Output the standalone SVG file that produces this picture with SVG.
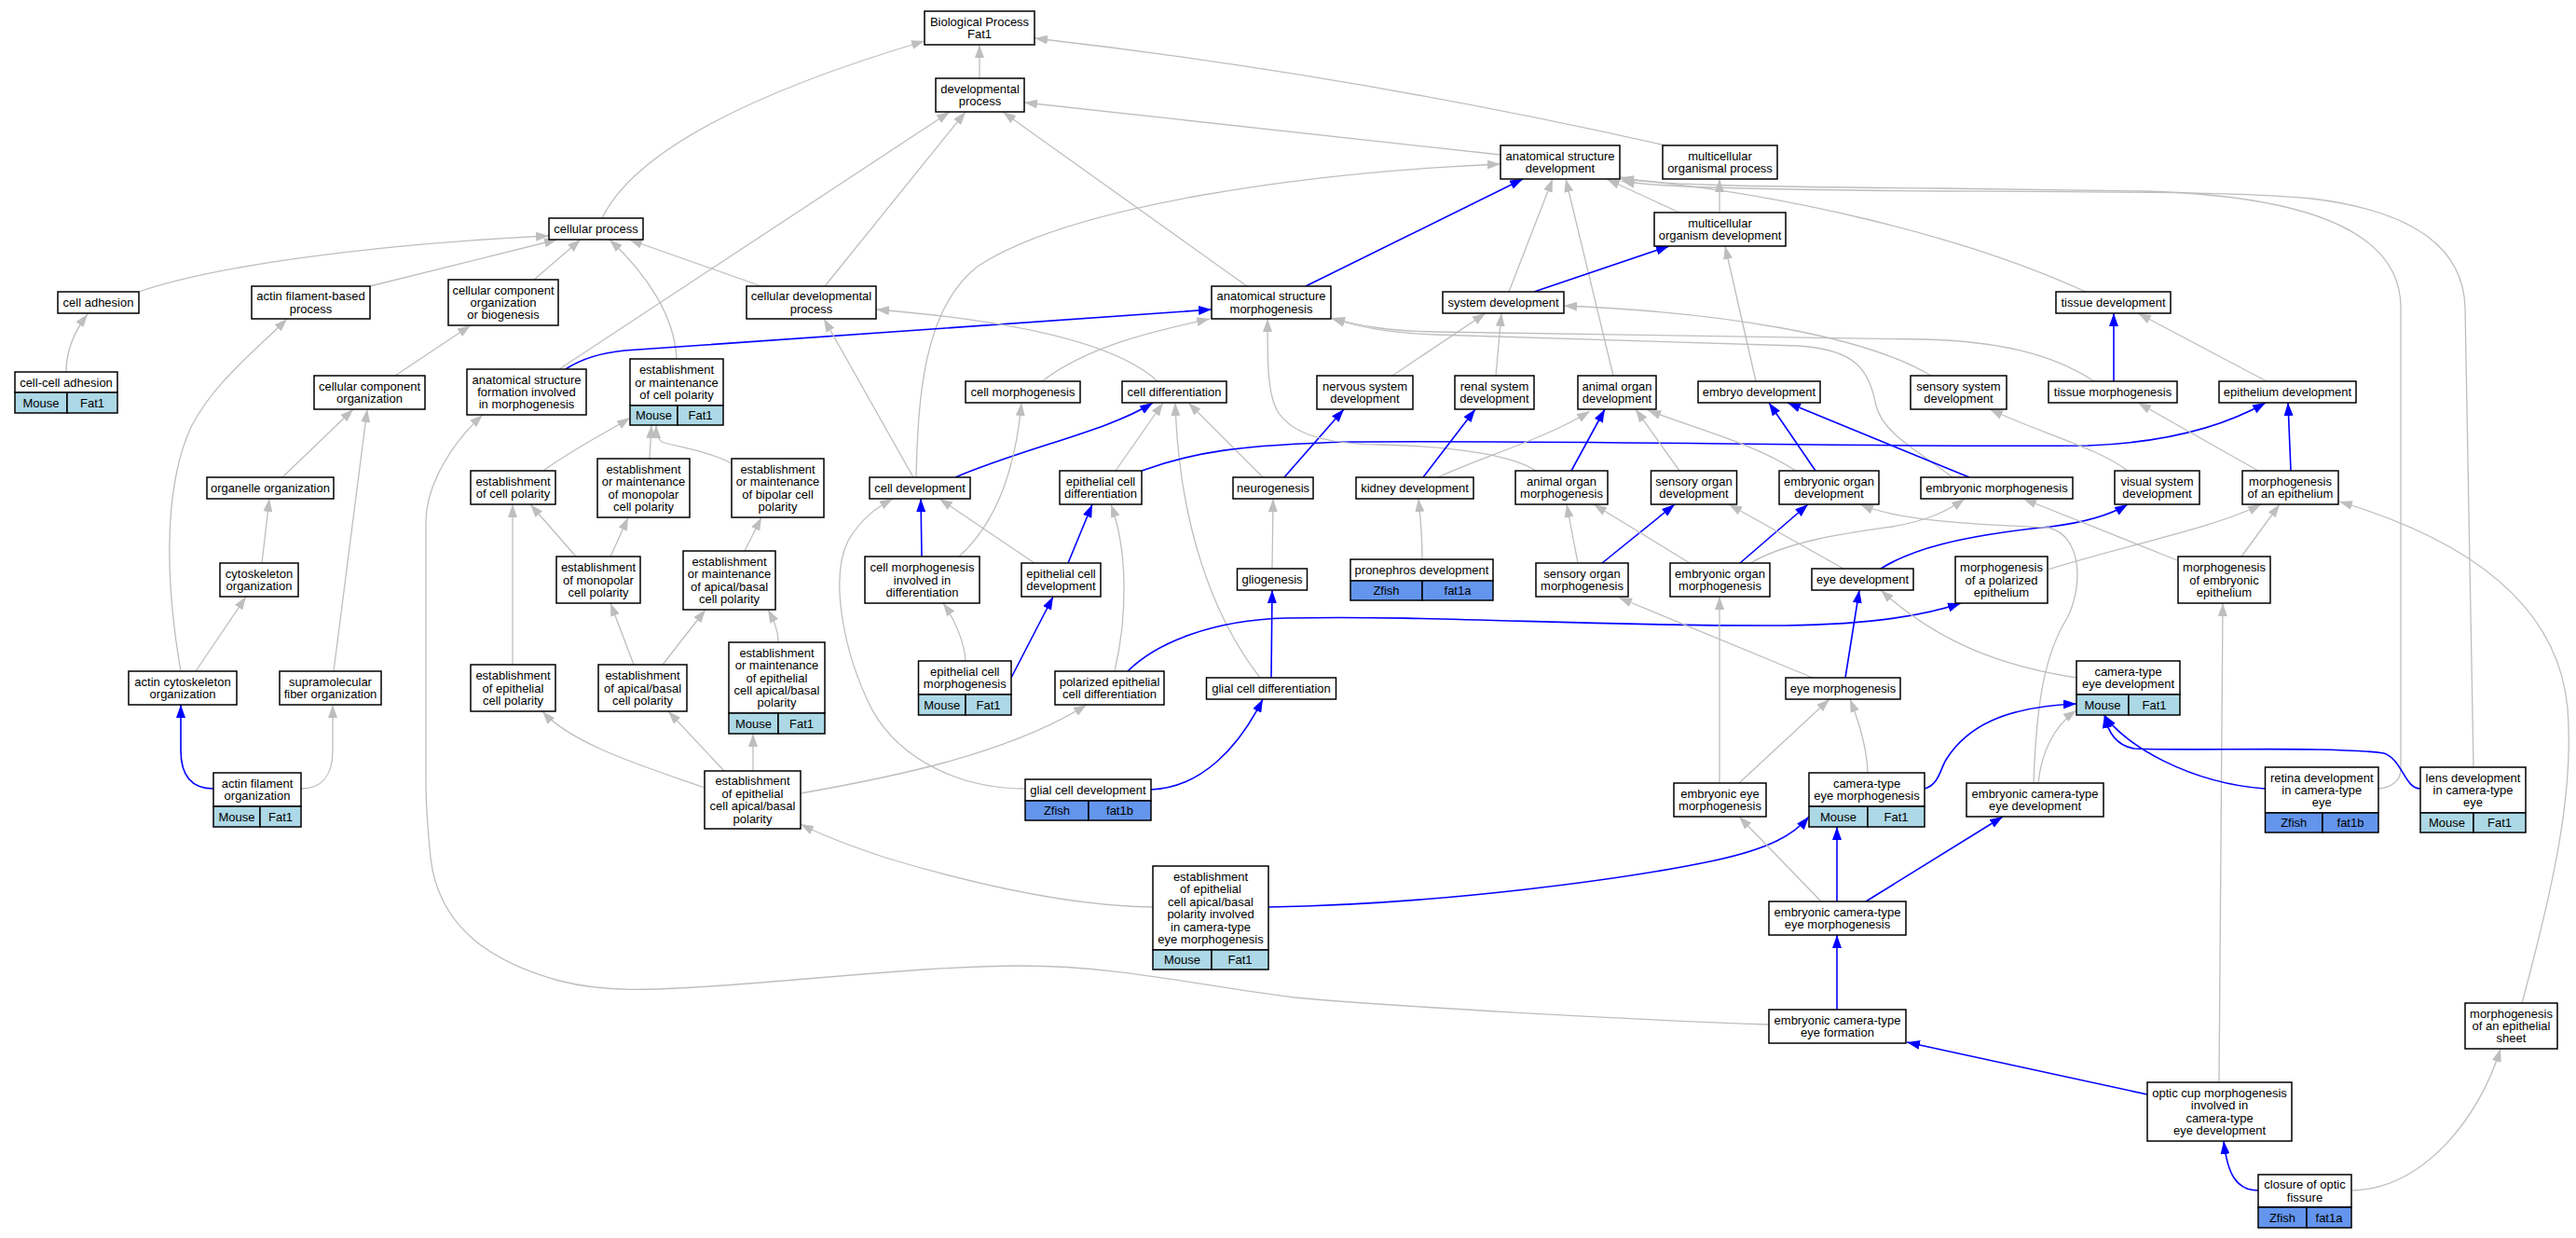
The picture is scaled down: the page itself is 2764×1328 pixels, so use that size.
<svg xmlns="http://www.w3.org/2000/svg" width="2764" height="1328" viewBox="0 0 2764 1328">
<defs>
<marker id="ag" markerUnits="userSpaceOnUse" markerWidth="14" markerHeight="10" refX="14" refY="5" orient="auto" viewBox="0 0 14 10"><path d="M0,0L14,5L0,10z" fill="#bebebe"/></marker>
<marker id="ab" markerUnits="userSpaceOnUse" markerWidth="14" markerHeight="10" refX="14" refY="5" orient="auto" viewBox="0 0 14 10"><path d="M0,0L14,5L0,10z" fill="#0000ff"/></marker>
</defs>
<style>
text{font-family:"Liberation Sans",Arial,Helvetica,sans-serif;font-size:13px;text-anchor:middle;fill:#000}
.n rect{fill:#fff;stroke:#000;stroke-width:1.5}
.n rect.m{fill:#add8e6}
.n rect.z{fill:#6495ed}
.g{fill:none;stroke:#bebebe;stroke-width:1.3;marker-end:url(#ag)}
.b{fill:none;stroke:#0000ff;stroke-width:1.6;marker-end:url(#ab)}
</style>
<rect width="2764" height="1328" fill="#fff"/>
<g id="edges">
<path class="g" d="M1051,84 L1051,48"/>
<path class="g" d="M646,234 C675,175 770,110 992,44"/>
<path class="g" d="M1787,156 Q1450,80 1110,41"/>
<path class="g" d="M1610,166 L1099,110"/>
<path class="g" d="M1338,307 L1076,120"/>
<path class="g" d="M885,307 L1036,120"/>
<path class="g" d="M600,396 L1019,120"/>
<path class="g" d="M983,512 C985,430 990,330 1050,285 C1150,220 1400,185 1610,176"/>
<path class="b" d="M1401,307 L1634,192"/>
<path class="g" d="M1619,313 L1666,192"/>
<path class="g" d="M1731,403 L1680,192"/>
<path class="g" d="M1802,228 L1724,192"/>
<path class="g" d="M1845,228 L1845,192"/>
<path class="g" d="M2238,313 C2100,250 1900,205 1739,192"/>
<path class="g" d="M2552,846 C2565,845 2576,838 2576,825 L2576,330 C2576,250 2480,210 2300,205 L2080,202 C1850,200 1770,198 1739,190"/>
<path class="g" d="M2654,823 L2645,330 C2643,260 2580,225 2480,213 C2400,206 2300,206 2080,205 C1850,203 1770,200 1740,194"/>
<path class="b" d="M1646,313 L1791,264"/>
<path class="g" d="M1884,409 L1851,264"/>
<path class="g" d="M1494,403 L1594,336"/>
<path class="g" d="M1605,403 L1611,336"/>
<path class="g" d="M2072,403 C2000,360 1850,335 1678,328"/>
<path class="g" d="M2247,409 C2200,378 2140,366 2064,364 L1540,356 C1490,355 1460,350 1429,341"/>
<path class="g" d="M2095,512 C2060,485 2020,465 2013,435 C2005,395 1990,375 1930,371 L1540,359 C1490,357 1460,351 1429,342"/>
<path class="g" d="M71,399 C71,375 80,355 94,337"/>
<path class="g" d="M149,313 C230,285 400,262 589,253"/>
<path class="g" d="M397,307 L598,257"/>
<path class="g" d="M573,300 L623,257"/>
<path class="g" d="M726,385 C724,340 695,295 654,257"/>
<path class="g" d="M817,307 L675,257"/>
<path class="g" d="M424,403 L505,349"/>
<path class="g" d="M303,512 L379,439"/>
<path class="g" d="M358,720 L394,439"/>
<path class="g" d="M281,604 L289,535"/>
<path class="g" d="M210,720 L264,640"/>
<path class="g" d="M194,720 C180,640 172,530 205,458 C230,410 270,380 308,342"/>
<path class="b" d="M229,846 C208,846 194,835 194,805 L194,756"/>
<path class="g" d="M323,846 C345,846 357,832 357,805 L357,756"/>
<path class="g" d="M1898,1099 C1750,1094 1500,1080 1389,1070 C1290,1058 1200,1036 1096,1036 C1000,1036 880,1050 763,1058 C700,1062 650,1065 600,1052 C520,1030 470,990 462,920 C459,890 457,870 457,840 L457,560 C457,520 485,475 518,445"/>
<path class="b" d="M607,396 C622,386 640,379 670,376 L1300,332"/>
<path class="g" d="M583,505 C620,478 655,462 676,448"/>
<path class="g" d="M697,492 L699,456"/>
<path class="g" d="M785,497 C760,483 720,478 710,474 C705,470 704,463 704,456"/>
<path class="g" d="M618,597 L569,541"/>
<path class="g" d="M655,597 L674,555"/>
<path class="g" d="M550,713 L550,541"/>
<path class="g" d="M680,713 L655,647"/>
<path class="g" d="M711,713 L757,654"/>
<path class="g" d="M799,591 L817,555"/>
<path class="g" d="M835,689 C835,675 830,665 824,654"/>
<path class="g" d="M756,845 C700,825 615,800 582,763"/>
<path class="g" d="M777,827 L717,763"/>
<path class="g" d="M808,827 L808,787"/>
<path class="g" d="M859,851 C950,835 1080,810 1166,756"/>
<path class="g" d="M1237,973 C1150,972 1050,950 950,920 C905,905 880,895 859,884"/>
<path class="b" d="M1361,973 C1550,970 1750,942 1840,923 C1900,910 1925,895 1941,876"/>
<path class="g" d="M1100,846 C1030,846 965,815 935,760 C905,700 890,620 910,580 C925,555 940,545 958,535"/>
<path class="b" d="M1235,847 C1290,845 1330,800 1355,750"/>
<path class="b" d="M1364,727 L1365,633"/>
<path class="g" d="M1352,727 C1300,660 1265,560 1261,432"/>
<path class="g" d="M1365,610 L1366,535"/>
<path class="g" d="M1355,512 L1275,432"/>
<path class="b" d="M1378,512 L1442,439"/>
<path class="b" d="M1025,512 C1100,480 1190,462 1237,432"/>
<path class="g" d="M1197,505 L1248,432"/>
<path class="b" d="M989,597 L988,535"/>
<path class="g" d="M1110,604 L1008,535"/>
<path class="g" d="M1029,597 C1070,560 1090,500 1096,432"/>
<path class="g" d="M1036,709 C1035,690 1025,665 1012,647"/>
<path class="b" d="M1085,727 L1130,640"/>
<path class="b" d="M1146,604 L1172,541"/>
<path class="g" d="M1196,720 C1210,660 1210,590 1192,541"/>
<path class="b" d="M1210,720 C1240,690 1300,665 1380,663 C1550,660 1700,672 1915,671 C2000,670 2060,662 2104,647"/>
<path class="b" d="M1225,505 C1280,485 1330,477 1450,474 C1700,472 2000,480 2240,478 C2320,475 2385,458 2431,432"/>
<path class="g" d="M980,512 L884,342"/>
<path class="g" d="M1242,409 C1200,370 1100,345 940,332"/>
<path class="g" d="M1118,409 C1170,370 1240,355 1298,342"/>
<path class="g" d="M1648,505 C1625,490 1570,479 1480,477 C1420,476 1385,465 1370,440 C1360,420 1360,390 1360,342"/>
<path class="b" d="M1527,512 L1583,439"/>
<path class="g" d="M1543,512 C1590,490 1660,470 1706,441"/>
<path class="b" d="M1686,505 L1722,439"/>
<path class="g" d="M1802,505 L1755,439"/>
<path class="g" d="M1927,505 C1880,475 1820,460 1768,440"/>
<path class="b" d="M1948,505 L1898,432"/>
<path class="b" d="M2113,512 L1918,432"/>
<path class="g" d="M1526,600 C1526,570 1524,555 1522,535"/>
<path class="g" d="M1693,604 L1681,541"/>
<path class="b" d="M1719,604 L1797,541"/>
<path class="g" d="M1813,604 L1710,541"/>
<path class="b" d="M1867,604 L1940,541"/>
<path class="g" d="M1878,604 C1920,580 1980,572 2030,565 C2070,558 2090,548 2108,535"/>
<path class="g" d="M1978,610 L1855,541"/>
<path class="b" d="M2018,610 C2050,590 2100,575 2200,565 C2240,560 2265,552 2283,541"/>
<path class="g" d="M2182,840 C2185,750 2195,700 2218,663 C2235,630 2235,575 2198,566 C2130,563 2040,560 1996,541"/>
<path class="g" d="M2187,840 C2190,810 2202,780 2228,762"/>
<path class="b" d="M2065,846 C2080,842 2082,825 2088,815 C2110,780 2150,758 2228,755"/>
<path class="g" d="M2228,727 C2150,715 2080,690 2018,633"/>
<path class="b" d="M1980,727 L1995,633"/>
<path class="g" d="M1945,727 L1737,641"/>
<path class="g" d="M1845,840 L1845,640"/>
<path class="g" d="M1866,840 L1963,750"/>
<path class="g" d="M2004,829 C2003,800 1995,775 1985,750"/>
<path class="g" d="M1954,967 L1866,876"/>
<path class="b" d="M1971,967 L1971,887"/>
<path class="b" d="M2002,967 L2149,876"/>
<path class="b" d="M1971,1083 L1971,1003"/>
<path class="b" d="M2304,1174 L2046,1118"/>
<path class="g" d="M2381,1161 L2385,647"/>
<path class="b" d="M2423,1277 C2400,1277 2390,1260 2386,1224"/>
<path class="g" d="M2524,1277 C2600,1275 2660,1200 2683,1125"/>
<path class="g" d="M2706,1076 C2740,950 2762,850 2755,760 C2745,650 2650,580 2510,538"/>
<path class="g" d="M2405,597 L2446,541"/>
<path class="g" d="M2197,611 C2280,585 2380,565 2426,541"/>
<path class="b" d="M2458,505 L2455,432"/>
<path class="g" d="M2423,505 L2294,432"/>
<path class="g" d="M2432,409 L2294,336"/>
<path class="b" d="M2268,409 L2268,336"/>
<path class="g" d="M2283,505 C2250,480 2190,465 2135,439"/>
<path class="g" d="M2336,601 L2171,535"/>
<path class="b" d="M2430,846 C2350,840 2280,800 2258,767"/>
<path class="b" d="M2597,846 C2580,846 2578,815 2558,808 C2500,800 2350,806 2290,803 C2272,800 2262,787 2258,767"/>
</g>
<g id="nodes">
<g id="bp" class="n"><rect x="992" y="12" width="118" height="36"/><text x="1051" y="27.8">Biological Process</text><text x="1051" y="41.2">Fat1</text></g>
<g id="dp" class="n"><rect x="1004" y="84" width="95" height="36"/><text x="1051.5" y="99.8">developmental</text><text x="1051.5" y="113.2">process</text></g>
<g id="mop" class="n"><rect x="1784" y="156" width="123" height="36"/><text x="1845.5" y="171.8">multicellular</text><text x="1845.5" y="185.2">organismal process</text></g>
<g id="asd" class="n"><rect x="1610" y="156" width="128" height="36"/><text x="1674" y="171.8">anatomical structure</text><text x="1674" y="185.2">development</text></g>
<g id="cp" class="n"><rect x="589" y="234" width="101" height="23"/><text x="639.5" y="250">cellular process</text></g>
<g id="mod" class="n"><rect x="1775" y="228" width="141" height="36"/><text x="1845.5" y="243.8">multicellular</text><text x="1845.5" y="257.2">organism development</text></g>
<g id="ca" class="n"><rect x="62" y="313" width="87" height="23"/><text x="105.5" y="329">cell adhesion</text></g>
<g id="afbp" class="n"><rect x="270" y="307" width="127" height="35"/><text x="333.5" y="322.3">actin filament-based</text><text x="333.5" y="335.7">process</text></g>
<g id="ccoob" class="n"><rect x="481" y="300" width="118" height="49"/><text x="540" y="315.6">cellular component</text><text x="540" y="329">organization</text><text x="540" y="342.4">or biogenesis</text></g>
<g id="cdp" class="n"><rect x="801" y="307" width="139" height="35"/><text x="870.5" y="322.3">cellular developmental</text><text x="870.5" y="335.7">process</text></g>
<g id="asm" class="n"><rect x="1300" y="307" width="128" height="35"/><text x="1364" y="322.3">anatomical structure</text><text x="1364" y="335.7">morphogenesis</text></g>
<g id="sd" class="n"><rect x="1548" y="313" width="130" height="23"/><text x="1613" y="329">system development</text></g>
<g id="td" class="n"><rect x="2206" y="313" width="123" height="23"/><text x="2267.5" y="329">tissue development</text></g>
<g id="cca" class="n"><rect x="16" y="399" width="110" height="22"/><rect class="m" x="16" y="421" width="56" height="22"/><rect class="m" x="72" y="421" width="54" height="22"/><text x="71" y="414.5">cell-cell adhesion</text><text x="44" y="436.5">Mouse</text><text x="99" y="436.5">Fat1</text></g>
<g id="cco" class="n"><rect x="337" y="403" width="119" height="36"/><text x="396.5" y="418.8">cellular component</text><text x="396.5" y="432.2">organization</text></g>
<g id="asfim" class="n"><rect x="501" y="396" width="128" height="49"/><text x="565" y="411.6">anatomical structure</text><text x="565" y="425">formation involved</text><text x="565" y="438.4">in morphogenesis</text></g>
<g id="emcp" class="n"><rect x="676" y="385" width="100" height="50"/><rect class="m" x="676" y="435" width="51" height="21"/><rect class="m" x="727" y="435" width="49" height="21"/><text x="726" y="401.1">establishment</text><text x="726" y="414.5">or maintenance</text><text x="726" y="427.9">of cell polarity</text><text x="701.5" y="450">Mouse</text><text x="751.5" y="450">Fat1</text></g>
<g id="cm" class="n"><rect x="1036" y="409" width="123" height="23"/><text x="1097.5" y="425">cell morphogenesis</text></g>
<g id="cdiff" class="n"><rect x="1204" y="409" width="112" height="23"/><text x="1260" y="425">cell differentiation</text></g>
<g id="nsd" class="n"><rect x="1413" y="403" width="103" height="36"/><text x="1464.5" y="418.8">nervous system</text><text x="1464.5" y="432.2">development</text></g>
<g id="rsd" class="n"><rect x="1561" y="403" width="85" height="36"/><text x="1603.5" y="418.8">renal system</text><text x="1603.5" y="432.2">development</text></g>
<g id="aod" class="n"><rect x="1693" y="403" width="84" height="36"/><text x="1735" y="418.8">animal organ</text><text x="1735" y="432.2">development</text></g>
<g id="embd" class="n"><rect x="1822" y="409" width="131" height="23"/><text x="1887.5" y="425">embryo development</text></g>
<g id="ssd" class="n"><rect x="2050" y="403" width="103" height="36"/><text x="2101.5" y="418.8">sensory system</text><text x="2101.5" y="432.2">development</text></g>
<g id="tm" class="n"><rect x="2198" y="409" width="138" height="23"/><text x="2267" y="425">tissue morphogenesis</text></g>
<g id="epd" class="n"><rect x="2381" y="409" width="147" height="23"/><text x="2454.5" y="425">epithelium development</text></g>
<g id="oo" class="n"><rect x="222" y="512" width="136" height="23"/><text x="290" y="528">organelle organization</text></g>
<g id="eocp" class="n"><rect x="505" y="505" width="91" height="36"/><text x="550.5" y="520.8">establishment</text><text x="550.5" y="534.2">of cell polarity</text></g>
<g id="emmono" class="n"><rect x="641" y="492" width="99" height="63"/><text x="690.5" y="507.9">establishment</text><text x="690.5" y="521.3">or maintenance</text><text x="690.5" y="534.7">of monopolar</text><text x="690.5" y="548.1">cell polarity</text></g>
<g id="embi" class="n"><rect x="785" y="492" width="99" height="63"/><text x="834.5" y="507.9">establishment</text><text x="834.5" y="521.3">or maintenance</text><text x="834.5" y="534.7">of bipolar cell</text><text x="834.5" y="548.1">polarity</text></g>
<g id="cd" class="n"><rect x="933" y="512" width="108" height="23"/><text x="987" y="528">cell development</text></g>
<g id="ecdiff" class="n"><rect x="1137" y="505" width="88" height="36"/><text x="1181" y="520.8">epithelial cell</text><text x="1181" y="534.2">differentiation</text></g>
<g id="neuro" class="n"><rect x="1323" y="512" width="86" height="23"/><text x="1366" y="528">neurogenesis</text></g>
<g id="kd" class="n"><rect x="1455" y="512" width="126" height="23"/><text x="1518" y="528">kidney development</text></g>
<g id="aom" class="n"><rect x="1626" y="505" width="99" height="36"/><text x="1675.5" y="520.8">animal organ</text><text x="1675.5" y="534.2">morphogenesis</text></g>
<g id="sod" class="n"><rect x="1771.5" y="505" width="92" height="36"/><text x="1817.5" y="520.8">sensory organ</text><text x="1817.5" y="534.2">development</text></g>
<g id="eod" class="n"><rect x="1909" y="505" width="107" height="36"/><text x="1962.5" y="520.8">embryonic organ</text><text x="1962.5" y="534.2">development</text></g>
<g id="em" class="n"><rect x="2061" y="512" width="163" height="23"/><text x="2142.5" y="528">embryonic morphogenesis</text></g>
<g id="vsd" class="n"><rect x="2269" y="505" width="91" height="36"/><text x="2314.5" y="520.8">visual system</text><text x="2314.5" y="534.2">development</text></g>
<g id="moae" class="n"><rect x="2406" y="505" width="103" height="36"/><text x="2457.5" y="520.8">morphogenesis</text><text x="2457.5" y="534.2">of an epithelium</text></g>
<g id="co" class="n"><rect x="236" y="604" width="84" height="36"/><text x="278" y="619.8">cytoskeleton</text><text x="278" y="633.2">organization</text></g>
<g id="eomono" class="n"><rect x="597" y="597" width="90" height="50"/><text x="642" y="613.1">establishment</text><text x="642" y="626.5">of monopolar</text><text x="642" y="639.9">cell polarity</text></g>
<g id="emab" class="n"><rect x="733" y="591" width="99" height="63"/><text x="782.5" y="606.9">establishment</text><text x="782.5" y="620.3">or maintenance</text><text x="782.5" y="633.7">of apical/basal</text><text x="782.5" y="647.1">cell polarity</text></g>
<g id="cmid" class="n"><rect x="928" y="597" width="123" height="50"/><text x="989.5" y="613.1">cell morphogenesis</text><text x="989.5" y="626.5">involved in</text><text x="989.5" y="639.9">differentiation</text></g>
<g id="ecd" class="n"><rect x="1096" y="604" width="85" height="36"/><text x="1138.5" y="619.8">epithelial cell</text><text x="1138.5" y="633.2">development</text></g>
<g id="glio" class="n"><rect x="1327.5" y="610" width="75" height="23"/><text x="1365" y="626">gliogenesis</text></g>
<g id="pd" class="n"><rect x="1449" y="600" width="153" height="23"/><rect class="z" x="1449" y="623" width="77" height="21"/><rect class="z" x="1526" y="623" width="76" height="21"/><text x="1525.5" y="616">pronephros development</text><text x="1487.5" y="638">Zfish</text><text x="1564" y="638">fat1a</text></g>
<g id="som" class="n"><rect x="1648" y="604" width="99" height="36"/><text x="1697.5" y="619.8">sensory organ</text><text x="1697.5" y="633.2">morphogenesis</text></g>
<g id="eom" class="n"><rect x="1792" y="604" width="107" height="36"/><text x="1845.5" y="619.8">embryonic organ</text><text x="1845.5" y="633.2">morphogenesis</text></g>
<g id="eyed" class="n"><rect x="1944" y="610" width="109" height="23"/><text x="1998.5" y="626">eye development</text></g>
<g id="moape" class="n"><rect x="2098" y="597" width="99" height="50"/><text x="2147.5" y="613.1">morphogenesis</text><text x="2147.5" y="626.5">of a polarized</text><text x="2147.5" y="639.9">epithelium</text></g>
<g id="moee" class="n"><rect x="2337" y="597" width="99" height="50"/><text x="2386.5" y="613.1">morphogenesis</text><text x="2386.5" y="626.5">of embryonic</text><text x="2386.5" y="639.9">epithelium</text></g>
<g id="aco" class="n"><rect x="138" y="720" width="116" height="36"/><text x="196" y="735.8">actin cytoskeleton</text><text x="196" y="749.2">organization</text></g>
<g id="sfo" class="n"><rect x="300" y="720" width="109" height="36"/><text x="354.5" y="735.8">supramolecular</text><text x="354.5" y="749.2">fiber organization</text></g>
<g id="eoepcp" class="n"><rect x="505" y="713" width="91" height="50"/><text x="550.5" y="729.1">establishment</text><text x="550.5" y="742.5">of epithelial</text><text x="550.5" y="755.9">cell polarity</text></g>
<g id="eoab" class="n"><rect x="642" y="713" width="95" height="50"/><text x="689.5" y="729.1">establishment</text><text x="689.5" y="742.5">of apical/basal</text><text x="689.5" y="755.9">cell polarity</text></g>
<g id="emecab" class="n"><rect x="782" y="689" width="103" height="76"/><rect class="m" x="782" y="765" width="53" height="22"/><rect class="m" x="835" y="765" width="50" height="22"/><text x="833.5" y="704.7">establishment</text><text x="833.5" y="718.1">or maintenance</text><text x="833.5" y="731.5">of epithelial</text><text x="833.5" y="744.9">cell apical/basal</text><text x="833.5" y="758.3">polarity</text><text x="808.5" y="780.5">Mouse</text><text x="860" y="780.5">Fat1</text></g>
<g id="ecm" class="n"><rect x="985.5" y="709" width="99.5" height="36"/><rect class="m" x="985.5" y="745" width="50.5" height="22"/><rect class="m" x="1036" y="745" width="49" height="22"/><text x="1035.25" y="724.8">epithelial cell</text><text x="1035.25" y="738.2">morphogenesis</text><text x="1010.75" y="760.5">Mouse</text><text x="1060.5" y="760.5">Fat1</text></g>
<g id="pecd" class="n"><rect x="1132" y="720" width="117" height="36"/><text x="1190.5" y="735.8">polarized epithelial</text><text x="1190.5" y="749.2">cell differentiation</text></g>
<g id="gcdiff" class="n"><rect x="1294.5" y="727" width="139" height="23"/><text x="1364" y="743">glial cell differentiation</text></g>
<g id="eyem" class="n"><rect x="1916" y="727" width="123" height="23"/><text x="1977.5" y="743">eye morphogenesis</text></g>
<g id="cted" class="n"><rect x="2228" y="709" width="111" height="36"/><rect class="m" x="2228" y="745" width="56" height="22"/><rect class="m" x="2284" y="745" width="55" height="22"/><text x="2283.5" y="724.8">camera-type</text><text x="2283.5" y="738.2">eye development</text><text x="2256" y="760.5">Mouse</text><text x="2311.5" y="760.5">Fat1</text></g>
<g id="afo" class="n"><rect x="229" y="829" width="94" height="36"/><rect class="m" x="229" y="865" width="50" height="22"/><rect class="m" x="279" y="865" width="44" height="22"/><text x="276" y="844.8">actin filament</text><text x="276" y="858.2">organization</text><text x="254" y="880.5">Mouse</text><text x="301" y="880.5">Fat1</text></g>
<g id="eecabp" class="n"><rect x="756" y="827" width="103" height="62"/><text x="807.5" y="842.4">establishment</text><text x="807.5" y="855.8">of epithelial</text><text x="807.5" y="869.2">cell apical/basal</text><text x="807.5" y="882.6">polarity</text></g>
<g id="gcd" class="n"><rect x="1100" y="836" width="135" height="23"/><rect class="z" x="1100" y="859" width="68" height="21"/><rect class="z" x="1168" y="859" width="67" height="21"/><text x="1167.5" y="852">glial cell development</text><text x="1134" y="874">Zfish</text><text x="1201.5" y="874">fat1b</text></g>
<g id="eem" class="n"><rect x="1796" y="840" width="99" height="36"/><text x="1845.5" y="855.8">embryonic eye</text><text x="1845.5" y="869.2">morphogenesis</text></g>
<g id="ctem" class="n"><rect x="1941" y="829" width="124" height="36"/><rect class="m" x="1941" y="865" width="63" height="22"/><rect class="m" x="2004" y="865" width="61" height="22"/><text x="2003" y="844.8">camera-type</text><text x="2003" y="858.2">eye morphogenesis</text><text x="1972.5" y="880.5">Mouse</text><text x="2034.5" y="880.5">Fat1</text></g>
<g id="ected" class="n"><rect x="2110" y="840" width="147" height="36"/><text x="2183.5" y="855.8">embryonic camera-type</text><text x="2183.5" y="869.2">eye development</text></g>
<g id="retina" class="n"><rect x="2430.5" y="823" width="121.5" height="49"/><rect class="z" x="2430.5" y="872" width="61.5" height="21"/><rect class="z" x="2492" y="872" width="60" height="21"/><text x="2491.25" y="838.6">retina development</text><text x="2491.25" y="852">in camera-type</text><text x="2491.25" y="865.4">eye</text><text x="2461.25" y="887">Zfish</text><text x="2522" y="887">fat1b</text></g>
<g id="lens" class="n"><rect x="2597" y="823" width="113" height="49"/><rect class="m" x="2597" y="872" width="57" height="21"/><rect class="m" x="2654" y="872" width="56" height="21"/><text x="2653.5" y="838.6">lens development</text><text x="2653.5" y="852">in camera-type</text><text x="2653.5" y="865.4">eye</text><text x="2625.5" y="887">Mouse</text><text x="2682" y="887">Fat1</text></g>
<g id="eecam" class="n"><rect x="1237" y="929" width="124" height="90"/><rect class="m" x="1237" y="1019" width="63" height="21"/><rect class="m" x="1300" y="1019" width="61" height="21"/><text x="1299" y="945">establishment</text><text x="1299" y="958.4">of epithelial</text><text x="1299" y="971.8">cell apical/basal</text><text x="1299" y="985.2">polarity involved</text><text x="1299" y="998.6">in camera-type</text><text x="1299" y="1012">eye morphogenesis</text><text x="1268.5" y="1034">Mouse</text><text x="1330.5" y="1034">Fat1</text></g>
<g id="ectem" class="n"><rect x="1898" y="967" width="147" height="36"/><text x="1971.5" y="982.8">embryonic camera-type</text><text x="1971.5" y="996.2">eye morphogenesis</text></g>
<g id="ectef" class="n"><rect x="1898" y="1083" width="147" height="36"/><text x="1971.5" y="1098.8">embryonic camera-type</text><text x="1971.5" y="1112.2">eye formation</text></g>
<g id="ocm" class="n"><rect x="2304" y="1161" width="155" height="63"/><text x="2381.5" y="1176.9">optic cup morphogenesis</text><text x="2381.5" y="1190.3">involved in</text><text x="2381.5" y="1203.7">camera-type</text><text x="2381.5" y="1217.1">eye development</text></g>
<g id="cof" class="n"><rect x="2423" y="1260" width="100" height="35"/><rect class="z" x="2423" y="1295" width="52" height="22"/><rect class="z" x="2475" y="1295" width="48" height="22"/><text x="2473" y="1275.3">closure of optic</text><text x="2473" y="1288.7">fissure</text><text x="2449" y="1310.5">Zfish</text><text x="2499" y="1310.5">fat1a</text></g>
<g id="moes" class="n"><rect x="2645" y="1076" width="99" height="49"/><text x="2694.5" y="1091.6">morphogenesis</text><text x="2694.5" y="1105">of an epithelial</text><text x="2694.5" y="1118.4">sheet</text></g>
</g>
</svg>
